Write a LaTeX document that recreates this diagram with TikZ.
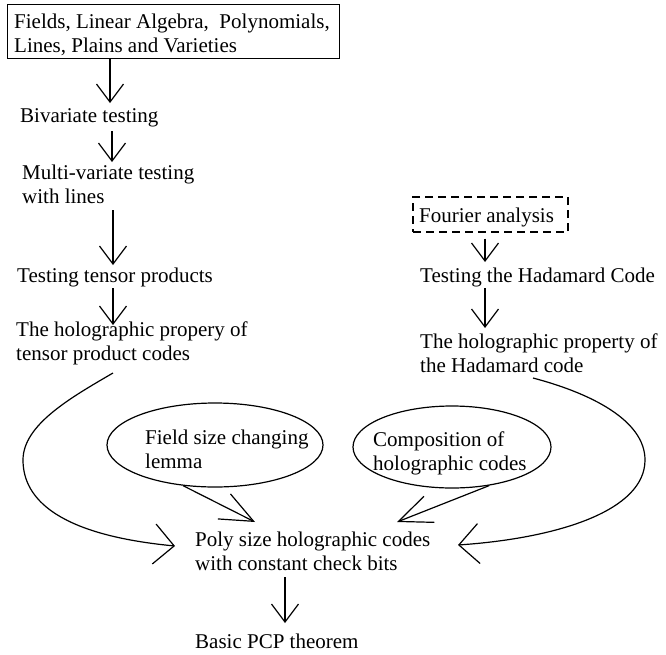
\documentclass[tikz,border=0pt]{standalone}
\usepackage{fontspec}
\setmainfont{Liberation Serif}
\usetikzlibrary{arrows.meta,shapes.geometric}
\begin{document}
\begin{tikzpicture}[x=1pt,y=-1pt,
  every node/.style={font=\fontsize{21}{23.5}\selectfont},
  txt/.style={anchor=base west, inner sep=0pt, align=left},
  frame/.style={draw, line width=1.2pt, inner sep=0pt},
  link/.style={line width=1.2pt, -{Straight Barb[length=18pt,width=27pt]}},
  sweep/.style={line width=1.2pt, -{Straight Barb[length=20pt,width=40pt]}},
  feed/.style={line width=1.2pt, -{Straight Barb[length=33pt,width=28pt]}}]
\useasboundingbox (0,0) rectangle (666,654);

% left column (multi-line texts are placed by their last baseline)
\node[frame, anchor=north west, minimum width=332pt, minimum height=54pt] (topbox) at (7,4) {};
\node[txt] (top) at (14,52) {Fields, Linear Algebra,~ Polynomials,\\Lines, Plains and Varieties};
\node[txt] (bivar) at (20,122) {Bivariate testing};
\node[txt] (multi) at (22,203) {Multi-variate testing\\with lines};
\node[txt] (tensor) at (17,282) {Testing tensor products};
\node[txt] (holoT) at (16,360) {The holographic propery of\\tensor product codes};

% right column
\node[frame, dash pattern=on 8pt off 5pt, minimum width=155pt, minimum height=35pt] (fbox) at (490.5,214.5) {};
\node[txt] (fourier) at (419,222) {Fourier analysis};
\node[txt] (hadT) at (420,282) {Testing the Hadamard Code};
\node[txt] (holoH) at (420,372) {The holographic property of\\the Hadamard code};

% lemmas
\node[frame, ellipse, minimum width=216pt, minimum height=84pt] (fieldE) at (215,445) {};
\node[txt] (field) at (145,468) {Field size changing\\lemma};
\node[frame, ellipse, minimum width=198pt, minimum height=82pt] (compE) at (452,447) {};
\node[txt] (comp) at (373,470) {Composition of\\holographic codes};

% results
\node[txt] (poly) at (195,570) {Poly size holographic codes\\with constant check bits};
\node[txt] (pcp) at (195,648) {Basic PCP theorem};

% straight steps
\draw[link] ([xshift=103pt]topbox.south west) -- ([xshift=90pt,yshift=19pt]bivar.base west);
\draw[link] ([xshift=92pt,yshift=-9pt]bivar.base west) -- ([xshift=90pt,yshift=41pt]multi.base west);
\draw[link] ([xshift=91pt,yshift=-7pt]multi.base west) -- ([xshift=96pt,yshift=17pt]tensor.base west);
\draw[link] ([xshift=96pt,yshift=-6pt]tensor.base west) -- ([xshift=97pt,yshift=35pt]holoT.base west);
\draw[link] ([xshift=-5.5pt,yshift=-6pt]fbox.south) -- ([xshift=65pt,yshift=20pt]hadT.base west);
\draw[link] ([xshift=65pt,yshift=-6pt]hadT.base west) -- ([xshift=65pt,yshift=44pt]holoH.base west);
\draw[link] ([xshift=90pt,yshift=-7pt]poly.base west) -- ([xshift=90pt,yshift=25pt]pcp.base west);

% sweeping curves into the result
\draw[sweep] ([xshift=97pt,yshift=-13pt]holoT.base west)
  .. controls (70,398) and (23,425) .. (23,460)
  .. controls (23,500) and (60,535) .. ([xshift=-20pt,yshift=24pt]poly.base west);
\draw[sweep] ([xshift=113pt,yshift=-6pt]holoH.base west)
  .. controls (590,393) and (645,420) .. (645,460)
  .. controls (645,510) and (560,538) .. ([xshift=263pt,yshift=25pt]poly.base west);

% lemma arrows
\draw[feed] (fieldE.-128) -- ([xshift=60pt,yshift=48pt]poly.base west);
\draw[feed] (compE.-46) -- ([xshift=202pt,yshift=48pt]poly.base west);
\end{tikzpicture}
\end{document}
